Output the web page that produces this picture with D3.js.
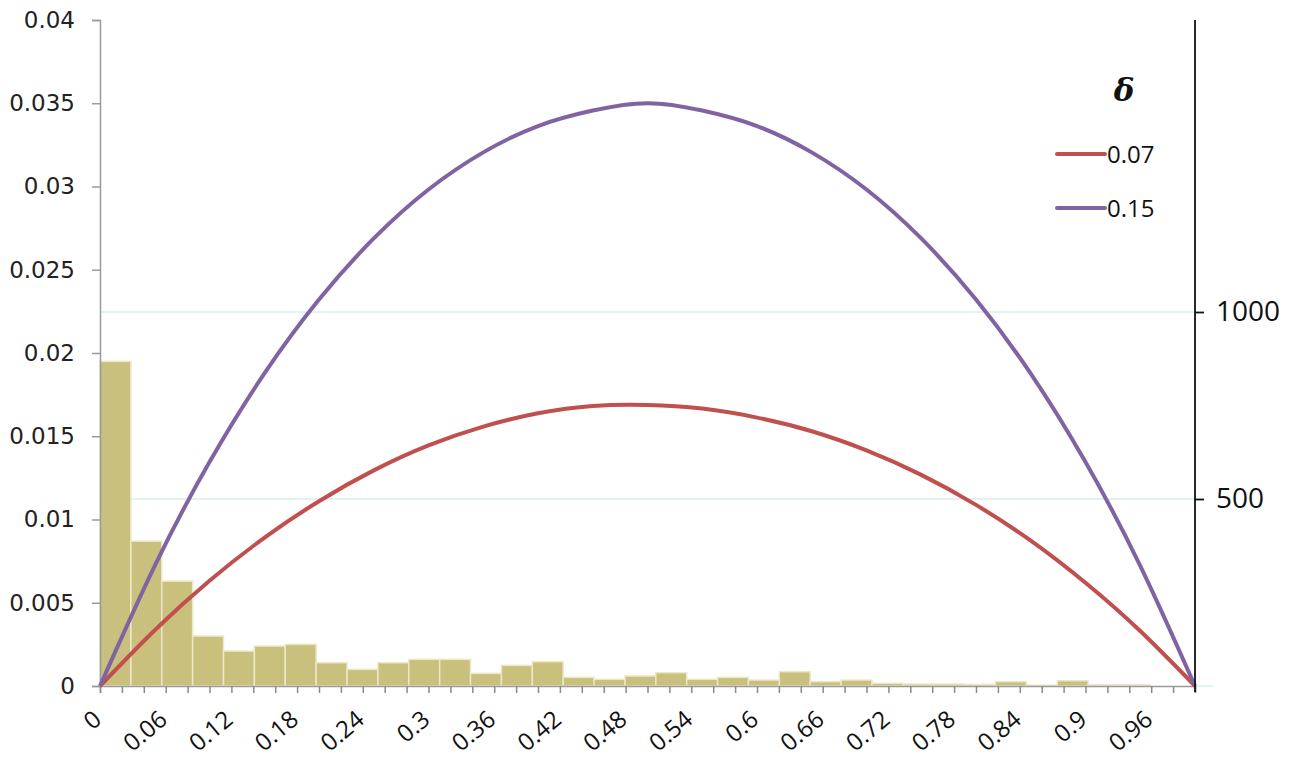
<!DOCTYPE html>
<html>
<head>
<meta charset="utf-8">
<script src="https://cdn.jsdelivr.net/npm/d3@7"></script>
<style>
  body { margin: 0; background: #fff; }
  svg { display: block; }
</style>
</head>
<body>
<div id="chart"></div>
<script>
// histogram of values, bins of width binW starting at 0
var binW = 0.0282;
var barValues = [0.0195, 0.0087, 0.0063, 0.0030, 0.0021, 0.0024, 0.0025, 0.0014,
  0.0010, 0.0014, 0.0016, 0.0016, 0.00076, 0.00124, 0.00146, 0.00052, 0.0004,
  0.0006, 0.0008, 0.0004, 0.00052, 0.00036, 0.00086, 0.00026, 0.00036, 0.00016,
  0.00012, 0.00012, 0.0001, 0.00026, 0.00005, 0.00032, 0.00008, 0.00008];

// curves at x = 0, 0.05, ... 1
var curveX = [0, 0.05, 0.1, 0.15, 0.2, 0.25, 0.3, 0.35, 0.4, 0.45, 0.5,
  0.55, 0.6, 0.65, 0.7, 0.75, 0.8, 0.85, 0.9, 0.95, 1];
var red07 = [0, 0.00335, 0.00632, 0.0089, 0.0111, 0.01295, 0.01445, 0.01558, 0.01638, 0.01682, 0.01688,
  0.01666, 0.01612, 0.0153, 0.01415, 0.01268, 0.01088, 0.00873, 0.0062, 0.0033, 0];
var purple15 = [0, 0.00722, 0.01345, 0.01876, 0.02321, 0.02688, 0.02982, 0.03205, 0.03363, 0.03456, 0.035,
  0.03456, 0.03363, 0.03205, 0.02982, 0.02688, 0.02321, 0.01876, 0.01345, 0.00722, 0];

var leftTicks = [0, 0.005, 0.01, 0.015, 0.02, 0.025, 0.03, 0.035, 0.04];
var rightTicks = [500, 1000];
var xLabels = [0, 0.06, 0.12, 0.18, 0.24, 0.3, 0.36, 0.42, 0.48, 0.54, 0.6, 0.66, 0.72, 0.78, 0.84, 0.9, 0.96];
var series = [
  { name: '0.07', values: red07, color: '#c0504d' },
  { name: '0.15', values: purple15, color: '#8064a2' }
];

var dim = { width: 1302, height: 760 };
var m = { left: 100, right: 107, top: 20, bottom: 74 };

var svg = d3.select('#chart').append('svg')
  .attr('width', dim.width)
  .attr('height', dim.height);

var xScale = d3.scaleLinear()
  .domain([0, 1])
  .range([m.left, dim.width - m.right]);

var yScale = d3.scaleLinear()
  .domain([0, 0.04])
  .range([dim.height - m.bottom, m.top]);

var y2Scale = d3.scaleLinear()
  .domain([0, 1000])
  .range([dim.height - m.bottom, 312]);

var x0 = xScale(0), x1 = xScale(1), yBase = yScale(0);

// light grid from right axis
svg.append('g').selectAll('line')
  .data(rightTicks)
  .join('line')
  .attr('x1', x0)
  .attr('x2', x1)
  .attr('y1', d => y2Scale(d))
  .attr('y2', d => y2Scale(d))
  .attr('stroke', '#d8eeee')
  .attr('stroke-width', 1.5);

svg.append('line')
  .attr('x1', x1).attr('x2', x1 + 18)
  .attr('y1', yBase).attr('y2', yBase)
  .attr('stroke', '#d8eeee').attr('stroke-width', 1.5);

// bars
svg.append('g').selectAll('rect')
  .data(barValues)
  .join('rect')
  .attr('x', (d, i) => xScale(i * binW))
  .attr('width', (d, i) => xScale((i + 1) * binW) - xScale(i * binW))
  .attr('y', d => yScale(d))
  .attr('height', d => yBase - yScale(d))
  .attr('fill', '#c9c07d')
  .attr('stroke', '#ece8c6')
  .attr('stroke-width', 1.5);

// left axis
var yAxis = d3.axisLeft(yScale)
  .tickValues(leftTicks)
  .tickSize(8)
  .tickPadding(17)
  .tickFormat(d => d3.format('')(+d.toFixed(3)));

var gy = svg.append('g')
  .attr('transform', 'translate(' + x0 + ',0)')
  .call(yAxis);
gy.select('.domain').attr('stroke', '#9a9a9a').attr('stroke-width', 1.5);
gy.selectAll('.tick line').attr('stroke', '#9a9a9a').attr('stroke-width', 1.5);
gy.selectAll('.tick text')
  .attr('font-family', 'DejaVu Sans, Verdana, sans-serif')
  .attr('font-size', 23)
  .attr('fill', '#222');

// bottom axis
var xAxis = d3.axisBottom(xScale)
  .tickValues(d3.range(0, 51).map(i => i * 0.02))
  .tickSize(7)
  .tickFormat('');

var gx = svg.append('g')
  .attr('transform', 'translate(0,' + yBase + ')')
  .call(xAxis);
gx.select('.domain').attr('stroke', '#9a9a9a').attr('stroke-width', 1.5);
gx.selectAll('.tick line').attr('stroke', '#8a8a8a').attr('stroke-width', 1.5);

svg.append('g').selectAll('text')
  .data(xLabels)
  .join('text')
  .attr('transform', d => 'translate(' + (xScale(d) + 3) + ',' + (yBase + 36) + ') rotate(-40)')
  .attr('text-anchor', 'end')
  .attr('font-family', 'Open Sans, sans-serif')
  .attr('font-size', 24)
  .attr('fill', '#111')
  .text(d => d);

// curves
var line = d3.line()
  .x((d, i) => xScale(curveX[i]))
  .y(d => yScale(d))
  .curve(d3.curveNatural);

svg.append('g').selectAll('path')
  .data(series)
  .join('path')
  .attr('d', d => line(d.values))
  .attr('fill', 'none')
  .attr('stroke', d => d.color)
  .attr('stroke-width', 4);

// right axis
var y2Axis = d3.axisRight(y2Scale)
  .tickValues(rightTicks)
  .tickSize(9)
  .tickPadding(12)
  .tickSizeOuter(0)
  .tickFormat(d3.format('d'));

var gy2 = svg.append('g')
  .attr('transform', 'translate(' + x1 + ',0)')
  .call(y2Axis);
gy2.select('.domain').remove();
gy2.append('line')
  .attr('x1', 0).attr('x2', 0)
  .attr('y1', m.top).attr('y2', yBase + 6)
  .attr('stroke', '#111').attr('stroke-width', 1.8);
gy2.selectAll('.tick line').attr('stroke', '#111').attr('stroke-width', 1.8);
gy2.selectAll('.tick text')
  .attr('font-family', 'Open Sans, sans-serif')
  .attr('font-size', 28)
  .attr('fill', '#111');

// legend
var legend = svg.append('g');
legend.append('text')
  .attr('x', 1124)
  .attr('y', 101)
  .attr('text-anchor', 'middle')
  .attr('font-family', 'DejaVu Serif, serif')
  .attr('font-style', 'italic')
  .attr('font-weight', 'bold')
  .attr('font-size', 31)
  .attr('fill', '#111')
  .text('δ');

var items = legend.selectAll('g.item')
  .data(series)
  .join('g')
  .attr('class', 'item')
  .attr('transform', (d, i) => 'translate(1057,' + (154 + i * 54) + ')');
items.append('line')
  .attr('x1', 0).attr('x2', 48)
  .attr('stroke', d => d.color)
  .attr('stroke-width', 4)
  .attr('stroke-linecap', 'round');
items.append('text')
  .attr('x', 50)
  .attr('y', 9)
  .attr('font-family', 'Open Sans, sans-serif')
  .attr('font-size', 24)
  .attr('fill', '#111')
  .text(d => d.name);
</script>
</body>
</html>
